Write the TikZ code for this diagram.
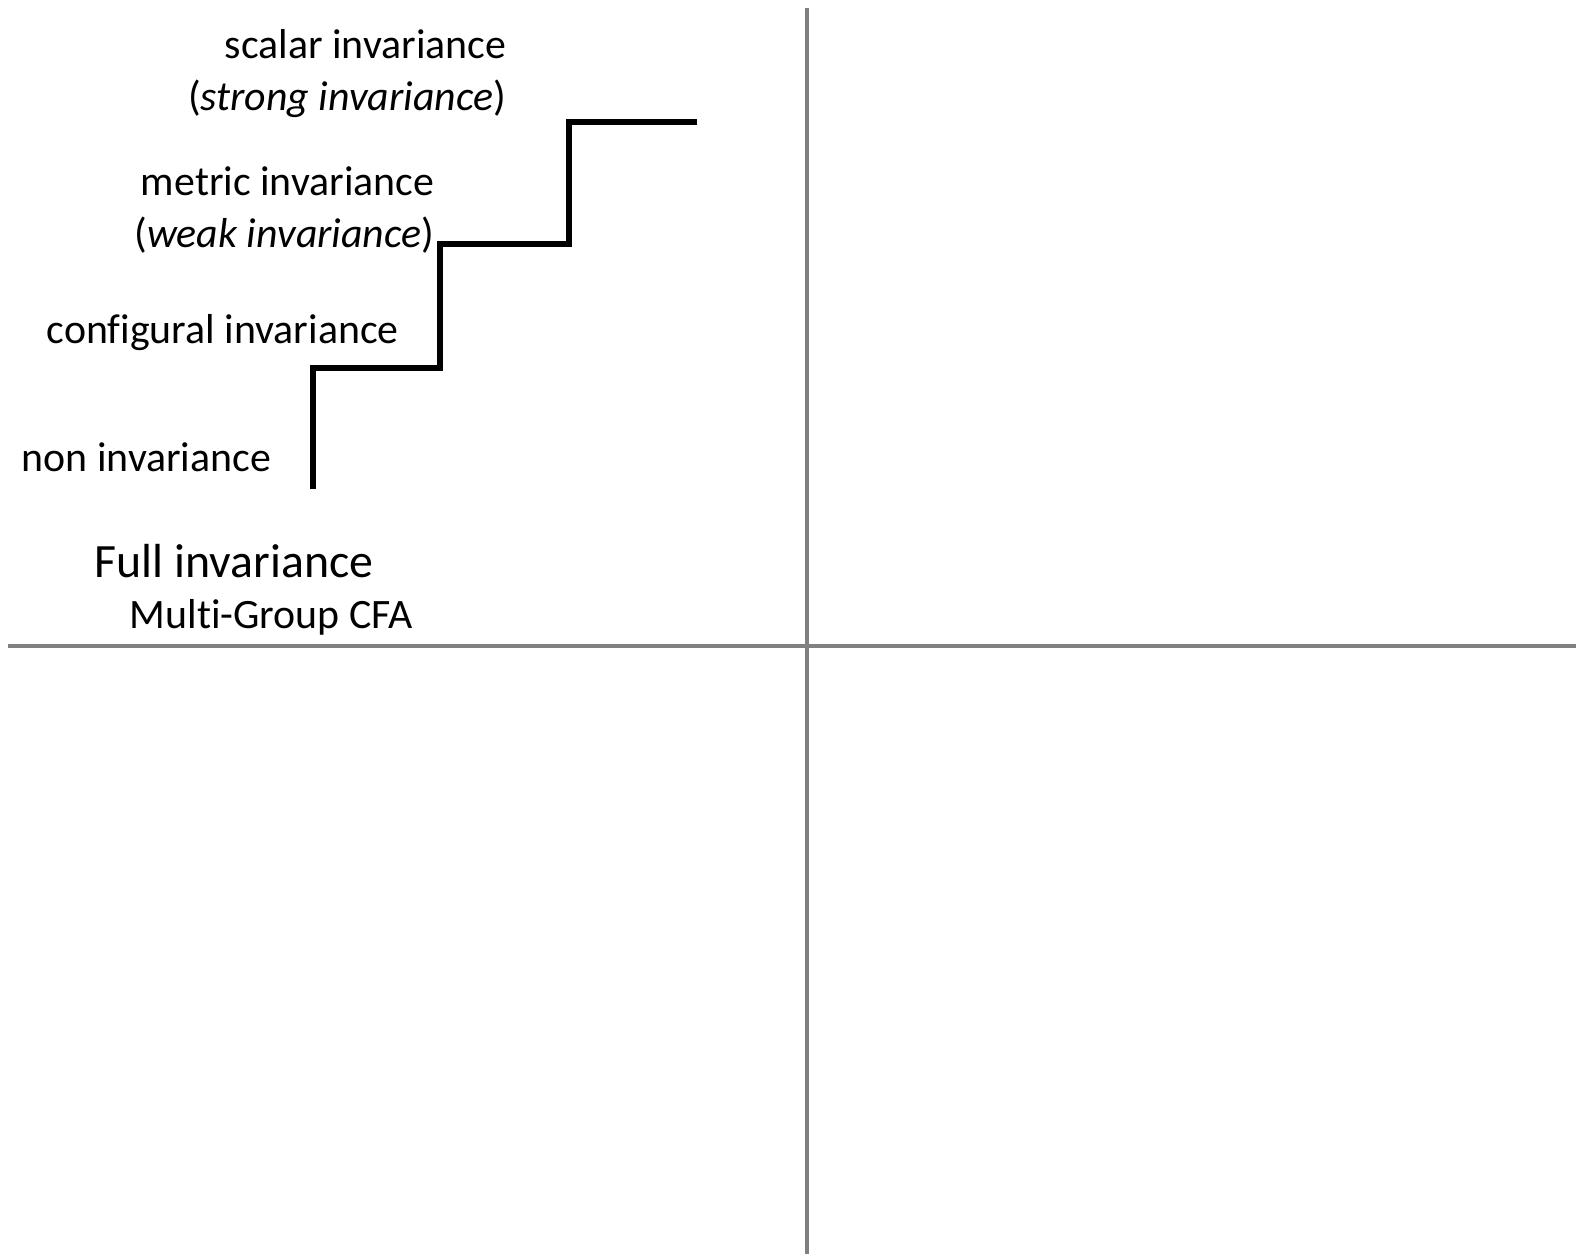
\documentclass[tikz,border=0pt]{standalone}
\usepackage{fontspec}
\setmainfont[Ligatures=NoCommon]{Carlito}

\begin{document}
\begin{tikzpicture}[
    x=0.01cm, y=-0.01cm,
    axis/.style={draw=black!50, line width=1.4pt},
    stair/.style={draw=black, line width=1.7pt},
    level/.style={inner sep=0pt, align=right,
                  font=\fontsize{11.9}{14.8}\selectfont},
    title/.style={inner sep=0pt, font=\fontsize{13.6}{16}\selectfont},
]

    \useasboundingbox (0,0) rectangle (1576,1254);

    % quadrant lines
    \draw[axis] (807,8) -- (807,1254);
    \draw[axis] (8,646) -- (1576,646);

    % staircase
    \draw[stair] (313,489) -- (313,368) -- (440,368) -- (440,244)
        -- (569,244) -- (569,122) -- (697,122);

    \node[level, anchor=east] (scalar) at (507,74) {scalar invariance\\(\textit{strong invariance})};
    \node[level, anchor=east] (metric) at (435,210) {metric invariance\\(\textit{weak invariance})};
    \node[level, anchor=west] (configural) at (46,333) {configural invariance};
    \node[level, anchor=west] (non) at (21,457) {non invariance};
    \node[title, anchor=west] (full) at (94,561) {Full invariance};
    \node[level, anchor=west] (mgcfa) at (129,617) {Multi-Group CFA};

\end{tikzpicture}
\end{document}
